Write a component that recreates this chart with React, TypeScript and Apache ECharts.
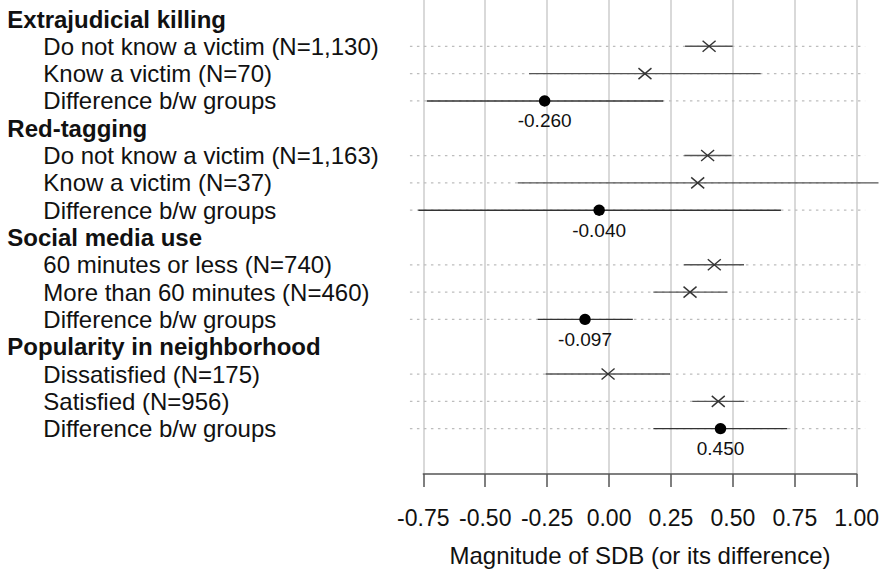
import React, { useEffect, useRef } from "react";
import * as echarts from "echarts";

// Row labels (top to bottom)
const rowLabels = [
  "Extrajudicial killing",
  "Do not know a victim (N=1,130)",
  "Know a victim (N=70)",
  "Difference b/w groups",
  "Red-tagging",
  "Do not know a victim (N=1,163)",
  "Know a victim (N=37)",
  "Difference b/w groups",
  "Social media use",
  "60 minutes or less (N=740)",
  "More than 60 minutes (N=460)",
  "Difference b/w groups",
  "Popularity in neighborhood",
  "Dissatisfied (N=175)",
  "Satisfied (N=956)",
  "Difference b/w groups",
];
const headerRows = [0, 4, 8, 12];
const itemRows = [1, 2, 3, 5, 6, 7, 9, 10, 11, 13, 14, 15];

// Estimates and confidence intervals per row (null for headers)
const estimates = [null, 0.404, 0.145, -0.26, null, 0.398, 0.358, -0.04, null, 0.425, 0.327, -0.097, null, -0.004, 0.441, 0.45];
const lower = [null, 0.307, -0.323, -0.736, null, 0.304, -0.369, -0.77, null, 0.303, 0.179, -0.288, null, -0.256, 0.336, 0.179];
const upper = [null, 0.499, 0.612, 0.219, null, 0.495, 1.088, 0.694, null, 0.545, 0.478, 0.096, null, 0.246, 0.546, 0.72];
const isDiff = [false, false, false, true, false, false, false, true, false, false, false, true, false, false, false, true];
const diffLabels = ["", "", "", "-0.260", "", "", "", "-0.040", "", "", "", "-0.097", "", "", "", "0.450"];

// x-axis ticks and guide-line extent (plot region)
const xTicks = [-0.75, -0.5, -0.25, 0, 0.25, 0.5, 0.75, 1.0];
const guideExtent = [-0.804, 1.034];

export default function App() {
  const ref = useRef<HTMLDivElement>(null);
  useEffect(() => {
    if (!ref.current) return;
    const chart = echarts.init(ref.current, undefined, { renderer: "svg" });
    const FONT = "'Liberation Sans', Arial, Helvetica, sans-serif";
    const rows = itemRows.map((r) => [r, estimates[r], lower[r], upper[r], isDiff[r] ? 1 : 0, diffLabels[r]]);

    const yCommon = {
      type: "value",
      inverse: true,
      min: -0.6957,
      max: 16.66,
      position: "left",
      axisLine: { show: false, onZero: false },
      axisTick: { show: false },
      splitLine: { show: false },
    };

    chart.setOption({
      animation: false,
      backgroundColor: "#ffffff",
      grid: { left: 423.3, right: 29.3, top: 0, bottom: 104, containLabel: false },
      xAxis: {
        type: "value",
        position: "bottom",
        min: xTicks[0],
        max: xTicks[xTicks.length - 1],
        interval: 0.25,
        name: "Magnitude of SDB (or its difference)",
        nameLocation: "middle",
        nameGap: 69,
        nameTextStyle: { fontFamily: FONT, fontSize: 24, color: "#111" },
        axisLine: { show: true, onZero: false, lineStyle: { color: "#555", width: 1.5 } },
        axisTick: { show: true, length: 13, lineStyle: { color: "#555", width: 1.5 } },
        axisLabel: {
          fontFamily: FONT,
          fontSize: 23,
          color: "#111",
          margin: 32,
          formatter: (v: number) => v.toFixed(2),
        },
        splitLine: { show: true, lineStyle: { color: "#cccccc", width: 1.5 } },
      },
      yAxis: [
        {
          ...yCommon,
          axisLabel: {
            customValues: headerRows,
            align: "left",
            margin: 416,
            fontFamily: FONT,
            fontSize: 24,
            fontWeight: "bold",
            color: "#111",
            formatter: (v: number) => rowLabels[Math.round(v)] ?? "",
          },
        },
        {
          ...yCommon,
          axisLabel: {
            customValues: itemRows,
            align: "left",
            margin: 380,
            fontFamily: FONT,
            fontSize: 24,
            color: "#111",
            formatter: (v: number) => rowLabels[Math.round(v)] ?? "",
          },
        },
      ],
      series: [
        {
          type: "custom",
          clip: false,
          xAxisIndex: 0,
          yAxisIndex: 0,
          data: rows,
          renderItem: (params: any, api: any) => {
            const row = api.value(0);
            const est = api.value(1);
            const lo = api.value(2);
            const hi = api.value(3);
            const diff = api.value(4) === 1;
            const label = rows[params.dataIndex][5] as string;
            const g0 = api.coord([guideExtent[0], row]);
            const g1 = api.coord([guideExtent[1], row]);
            const l = api.coord([lo, row]);
            const h = api.coord([hi, row]);
            const p = api.coord([est, row]);
            const children: any[] = [
              {
                type: "line",
                shape: { x1: g0[0], y1: g0[1], x2: g1[0], y2: g1[1] },
                style: { stroke: "#bdbdbd", lineWidth: 1.2, lineDash: [2.5, 4.5] },
              },
              {
                type: "line",
                shape: { x1: l[0], y1: l[1], x2: h[0], y2: h[1] },
                style: { stroke: diff ? "#333" : "#555", lineWidth: 1.4 },
              },
            ];
            if (diff) {
              children.push({
                type: "circle",
                shape: { cx: p[0], cy: p[1], r: 5.7 },
                style: { fill: "#000" },
              });
              children.push({
                type: "text",
                x: p[0],
                y: p[1] + 20,
                style: {
                  text: label,
                  fontFamily: FONT,
                  fontSize: 19,
                  fill: "#111",
                  align: "center",
                  verticalAlign: "middle",
                },
              });
            } else {
              const dx = 6.5;
              const dy = 5.5;
              children.push({
                type: "line",
                shape: { x1: p[0] - dx, y1: p[1] - dy, x2: p[0] + dx, y2: p[1] + dy },
                style: { stroke: "#333", lineWidth: 1.4 },
              });
              children.push({
                type: "line",
                shape: { x1: p[0] - dx, y1: p[1] + dy, x2: p[0] + dx, y2: p[1] - dy },
                style: { stroke: "#333", lineWidth: 1.4 },
              });
            }
            return { type: "group", children };
          },
        },
      ],
    });
    return () => chart.dispose();
  }, []);
  return <div ref={ref} style={{ width: 886, height: 578, position: "absolute", left: 0, top: 0 }} />;
}
